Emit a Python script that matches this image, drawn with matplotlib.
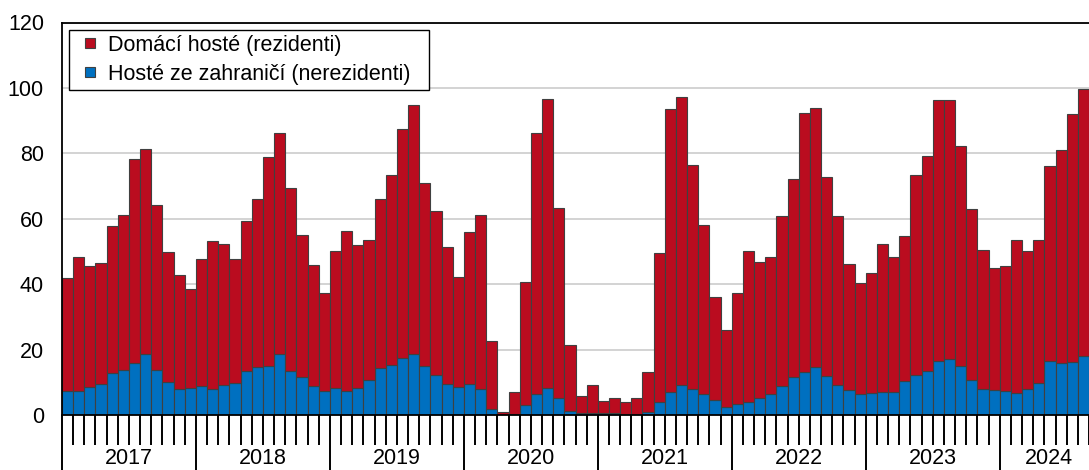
import matplotlib
matplotlib.use("Agg")
import matplotlib.pyplot as plt
import matplotlib.transforms as mtransforms
from matplotlib.lines import Line2D
import numpy as np

plt.rcParams['font.family'] = ['Liberation Sans', 'DejaVu Sans']

years = [2017, 2018, 2019, 2020, 2021, 2022, 2023, 2024]
months_per_year = [12, 12, 12, 12, 12, 12, 12, 8]

# Total guests (residents + non-residents), monthly
total = [
    42.0, 48.4, 45.6, 46.6, 57.7, 61.1, 78.2, 81.3, 64.3, 49.8, 42.9, 38.6,   # 2017
    47.8, 53.3, 52.4, 47.8, 59.4, 66.0, 78.8, 86.1, 69.4, 54.9, 45.9, 37.3,   # 2018
    50.0, 56.2, 51.9, 53.5, 66.1, 73.5, 87.5, 94.9, 70.9, 62.4, 51.4, 42.3,   # 2019
    55.8, 61.0, 22.7, 0.8, 7.1, 40.8, 86.2, 96.6, 63.4, 21.3, 5.8, 9.3,       # 2020
    4.4, 5.2, 3.9, 5.3, 13.0, 49.5, 93.5, 97.1, 76.4, 58.1, 36.0, 26.0,       # 2021
    37.3, 50.1, 46.9, 48.3, 60.7, 72.3, 92.3, 93.8, 72.9, 60.7, 46.2, 40.5,   # 2022
    43.3, 52.4, 48.4, 54.6, 73.3, 79.1, 96.4, 96.4, 82.3, 63.0, 50.5, 44.8,   # 2023
    45.6, 53.4, 50.0, 53.5, 76.0, 81.0, 92.0, 99.7,                           # 2024
]

# Non-residents (foreign guests), monthly
foreign = [
    7.4, 7.3, 8.7, 9.6, 12.7, 13.9, 15.8, 18.5, 13.8, 10.2, 7.8, 8.4,         # 2017
    9.0, 8.0, 9.3, 9.9, 13.3, 14.6, 15.0, 18.5, 13.5, 11.5, 8.9, 7.4,         # 2018
    8.3, 7.4, 8.3, 10.8, 14.5, 15.2, 17.5, 18.6, 15.0, 12.3, 9.4, 8.7,        # 2019
    9.6, 8.1, 1.7, 0.1, 0.2, 3.1, 6.3, 8.3, 5.1, 1.3, 0.7, 0.6,               # 2020
    0.5, 0.5, 0.4, 0.4, 1.0, 4.1, 7.0, 9.1, 8.1, 6.3, 4.5, 2.3,               # 2021
    3.3, 4.1, 5.1, 6.5, 9.0, 11.7, 13.0, 14.7, 12.0, 9.3, 7.5, 6.5,           # 2022
    6.8, 6.9, 6.9, 10.3, 12.1, 13.6, 16.4, 17.2, 14.9, 10.7, 7.9, 7.6,        # 2023
    7.4, 6.8, 7.8, 9.9, 16.4, 15.8, 16.1, 18.1,                               # 2024
]

series_labels = ["Domácí hosté (rezidenti)", "Hosté ze zahraničí (nerezidenti)"]
yticks = [0, 20, 40, 60, 80, 100, 120]

total = np.array(total)
foreign = np.array(foreign)
domestic = total - foreign
n = len(total)
x = np.arange(n)

RED = "#BA0C1F"
BLUE = "#0070C0"
EDGE = "#404040"

W, H = 1089, 470
fig = plt.figure(figsize=(W / 100, H / 100), dpi=100)
left, right, bottom, top = 62, 1089, 415, 22.5
aw, ah = right - left, bottom - top
ax = fig.add_axes([left / W, (H - bottom) / H, aw / W, ah / H])

ax.bar(x, foreign, width=1.0, color=BLUE, edgecolor=EDGE, linewidth=0.8, zorder=2)
ax.bar(x, domestic, bottom=foreign, width=1.0, color=RED, edgecolor=EDGE, linewidth=0.8, zorder=2)

ax.set_xlim(-0.5, n - 0.5)
ax.set_ylim(0, 120)
ax.set_yticks(yticks)
ax.set_yticklabels([str(v) for v in yticks], fontsize=15.5)
ax.tick_params(axis='y', length=0, pad=13)
ax.yaxis.grid(True, color="#D0D0D0", linewidth=1.3, zorder=0)
ax.set_axisbelow(True)

for s in ['left', 'top', 'bottom']:
    ax.spines[s].set_color('black')
    ax.spines[s].set_linewidth(1.3)
ax.spines['right'].set_visible(False)
ax.spines['bottom'].set_zorder(5)

# Month boundary ticks and year separators
boundaries = np.arange(n + 1) - 0.5
year_starts = np.concatenate([[0], np.cumsum(months_per_year)])[:-1] - 0.5
ax.set_xticks(year_starts)
ax.set_xticks(boundaries, minor=True)
ax.set_xticklabels([])
ax.tick_params(axis='x', which='major', length=40, width=1.4, color='black', direction='out')
ax.tick_params(axis='x', which='minor', length=21.6, width=1.4, color='black', direction='out')

# Year labels centred under each year
trans = mtransforms.blended_transform_factory(ax.transData, ax.transAxes)
start = 0
for yr, m in zip(years, months_per_year):
    cx = start + (m - 1) / 2
    if m < 12:
        cx += 0.45
    ax.text(cx, -(469 - bottom) / ah, str(yr), transform=trans,
            ha='center', va='bottom', fontsize=15.5)
    start += m

handles = [Line2D([], [], linestyle='none', marker='s', markersize=7.5,
                  markerfacecolor=RED, markeredgecolor=EDGE, markeredgewidth=0.8),
           Line2D([], [], linestyle='none', marker='s', markersize=7.5,
                  markerfacecolor=BLUE, markeredgecolor=EDGE, markeredgewidth=0.8)]
leg = ax.legend(handles, series_labels, loc='upper left',
                bbox_to_anchor=((69 - left) / aw, (bottom - 30) / ah, (429 - 69) / aw, 0.0),
                mode='expand',
                fontsize=15.5, frameon=True, fancybox=False, framealpha=1,
                edgecolor='black', handlelength=1.55, handletextpad=0.05,
                labelspacing=0.38, borderpad=0.22, borderaxespad=0)
leg.get_frame().set_linewidth(1.0)
leg.set_zorder(6)

fig.savefig("out.png", dpi=100)
